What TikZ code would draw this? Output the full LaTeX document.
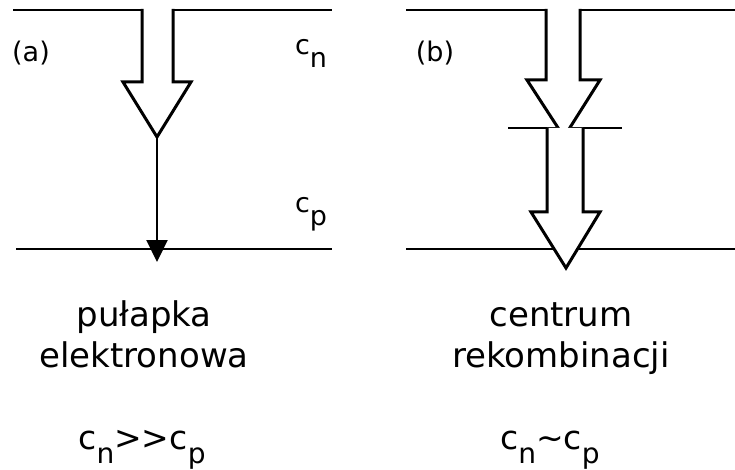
\documentclass[tikz,border=0pt]{standalone}
\usepackage{fontspec}
\setmainfont{DejaVu Sans}
\usetikzlibrary{arrows.meta}
\newcommand{\lowidx}[2][0.85]{\raisebox{-0.45em}{\scalebox{#1}{#2}}}

\begin{document}
\begin{tikzpicture}[x=1pt, y=-1pt, >=Latex,
    level/.style={line width=2.2pt, black},
    hollow/.style={line width=3pt, fill=white, line join=miter},
    thinarrow/.style={-{Triangle[length=22pt, width=21pt]}, line width=2.2pt},
    tag/.style={font=\fontsize{27}{32}\selectfont, anchor=base, inner sep=0pt},
    captxt/.style={font=\fontsize{34}{41}\selectfont, align=center, anchor=base, inner sep=0pt},
    conc/.style={font=\fontsize{33}{40}\selectfont, anchor=base, inner sep=0pt},
]
    \useasboundingbox (0,0) rectangle (735,470);

    \coordinate (cnAw) at (13,10);
    \coordinate (cnAe) at (332,10);
    \coordinate (cpAw) at (16,249);
    \coordinate (cpAe) at (332,249);
    \coordinate (cnBw) at (406,10);
    \coordinate (cnBe) at (735,10);
    \coordinate (cpBw) at (406,249);
    \coordinate (cpBe) at (735,249);
    \coordinate (midBw) at (508,128);
    \coordinate (midBe) at (622,128);

    \draw[level] (cnAw) -- (cnAe);
    \draw[level] (cpAw) -- (cpAe);
    \draw[level] (cnBw) -- (cnBe);
    \draw[level] (cpBw) -- (cpBe);
    \draw[level] (midBw) -- (midBe);

    \draw[hollow] (142,9) -- (142,82) -- (123,82) -- (157,137) -- (191,82) -- (173,82) -- (173,9);
    \draw[hollow] (546,9) -- (546,80) -- (527,80) -- (564,137) -- (600,80) -- (580,80) -- (580,9);
    \draw[hollow] (547,128) -- (547,212) -- (531,212) -- (566,268) -- (600,212) -- (583,212) -- (583,128);

    \coordinate (tipA) at (157,137);
    \coordinate (trapA) at (157,262);
    \draw[thinarrow] (tipA) -- (trapA);

    \node[tag] (labA) at (31,62) {(a)};
    \node[tag] (labB) at (435,62) {(b)};
    \node[tag] (cnA) at (311,55) {c\lowidx[1]{n}};
    \node[tag] (cpA) at (311,213) {c\lowidx[1]{p}};

    \node[captxt] (trap) at (144,367) {pułapka\\elektronowa};
    \node[captxt] (rec) at (561,367) {centrum\\rekombinacji};
    \node[conc] (ratioA) at (142,449) {c\lowidx{n}>{}>c\lowidx{p}};
    \node[conc] (ratioB) at (550,449) {c\lowidx{n}\textasciitilde c\lowidx{p}};

\end{tikzpicture}
\end{document}
